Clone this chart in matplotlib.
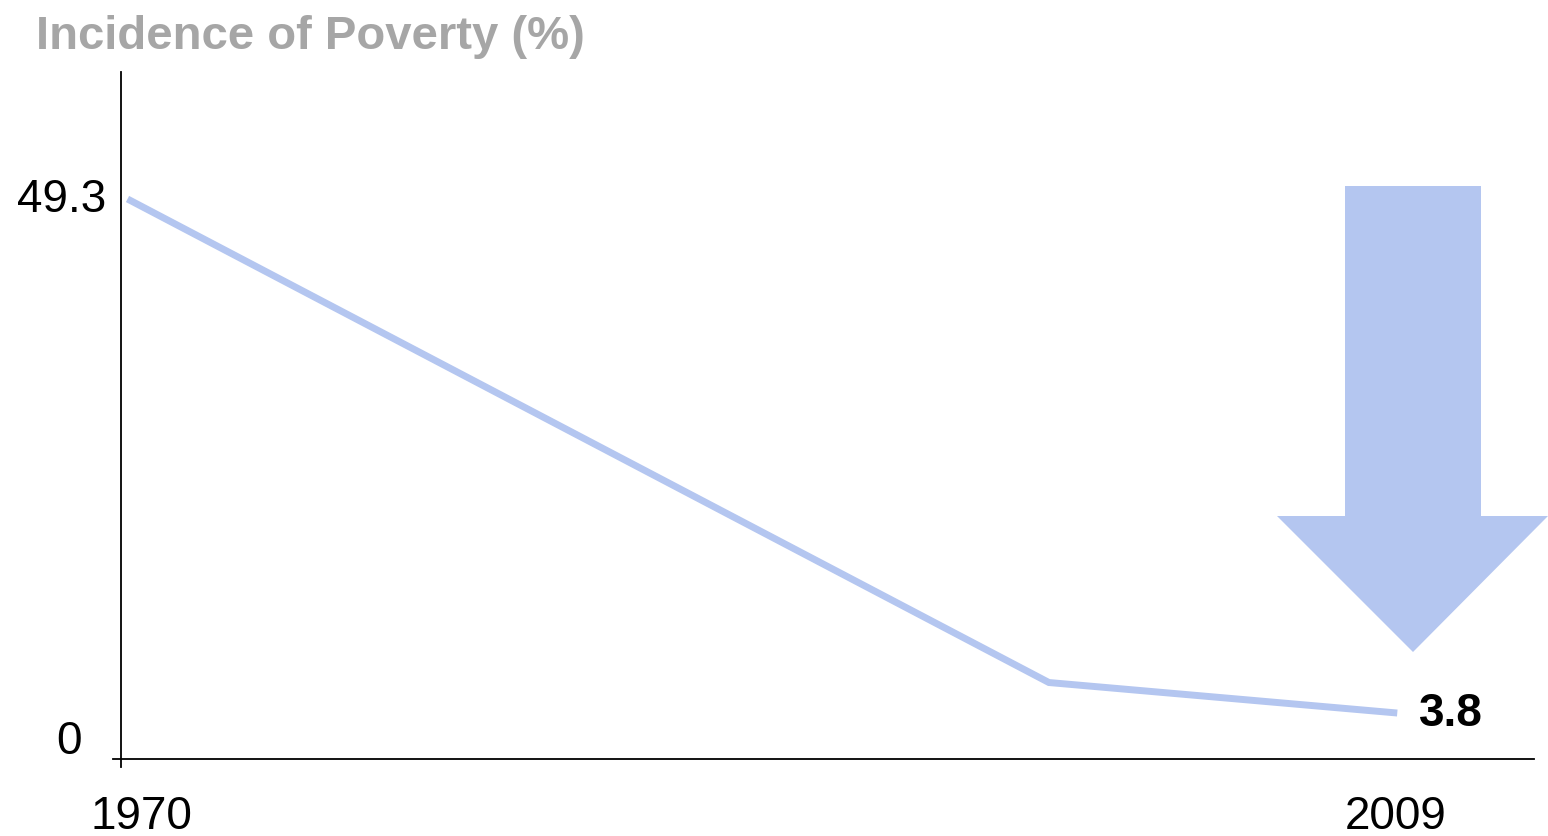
import matplotlib
matplotlib.use("Agg")
import matplotlib.pyplot as plt
from matplotlib.patches import Polygon

plt.rcParams['font.family'] = ['Liberation Sans', 'DejaVu Sans']

# Data
years = [1970, 1998.3, 2009]
poverty = [49.3, 6.5, 3.8]
title = "Incidence of Poverty (%)"
ytick_vals = [0, 49.3]
ytick_labels = ["0", "49.3"]
xtick_vals = [1970, 2009]
xtick_labels = ["1970", "2009"]
end_label = "3.8"

W, H = 1548, 837
fig = plt.figure(figsize=(W / 100, H / 100), dpi=100)
fig.patch.set_facecolor('white')

ax = fig.add_axes([121 / W, 1 - 760 / H, (1534 - 121) / W, (760 - 73) / H])
line_color = '#b4c6f0'

ax.plot(years, poverty, color=line_color, lw=5, solid_capstyle='butt', solid_joinstyle='miter')

ax.set_xlim(1969.8, 2013.2)
ax.set_ylim(-0.27, 60.54)

for s in ['top', 'right']:
    ax.spines[s].set_visible(False)
for s in ['left', 'bottom']:
    ax.spines[s].set_color('black')
    ax.spines[s].set_linewidth(1.3)
ax.spines['bottom'].set_bounds(1969.55, 2013.2)
ax.spines['left'].set_bounds(-0.95, 60.54)

ax.set_xticks([])
ax.set_yticks([])

# y tick labels
ax.annotate(ytick_labels[1], xy=(0, ytick_vals[1]), xycoords=('axes fraction', 'data'),
            xytext=(-15, 0), textcoords='offset pixels', ha='right', va='center',
            fontsize=33, color='black')
ax.annotate(ytick_labels[0], xy=(0, ytick_vals[0]), xycoords=('axes fraction', 'data'),
            xytext=(-39, 15), textcoords='offset pixels', ha='right', va='center',
            fontsize=33, color='black')

# x tick labels
ax.annotate(xtick_labels[0], xy=(xtick_vals[0], 0), xycoords=('data', 'axes fraction'),
            xytext=(14, -57), textcoords='offset pixels', ha='center', va='center',
            fontsize=33, color='black')
ax.annotate(xtick_labels[1], xy=(xtick_vals[1], 0), xycoords=('data', 'axes fraction'),
            xytext=(-2, -57), textcoords='offset pixels', ha='center', va='center',
            fontsize=33, color='black')

# end label
ax.annotate(end_label, xy=(years[-1], poverty[-1]), xycoords='data',
            xytext=(22, 0), textcoords='offset pixels', ha='left', va='center',
            fontsize=33, fontweight='bold', color='black')

# title
fig.text(36 / W, 1 - 37 / H, title, ha='left', va='center', fontsize=34,
         fontweight='bold', color='#a6a6a6')

# decorative down arrow (pixel coords from top-left)
arrow_px = [(1345, 187), (1481, 187), (1481, 517), (1548, 517), (1413, 653),
            (1277, 517), (1345, 517)]
arrow_fig = [(x / W, 1 - y / H) for x, y in arrow_px]
fig.patches.append(Polygon(arrow_fig, closed=True, transform=fig.transFigure,
                           facecolor=line_color, edgecolor='none'))

fig.savefig('out.png', dpi=100, facecolor='white')
